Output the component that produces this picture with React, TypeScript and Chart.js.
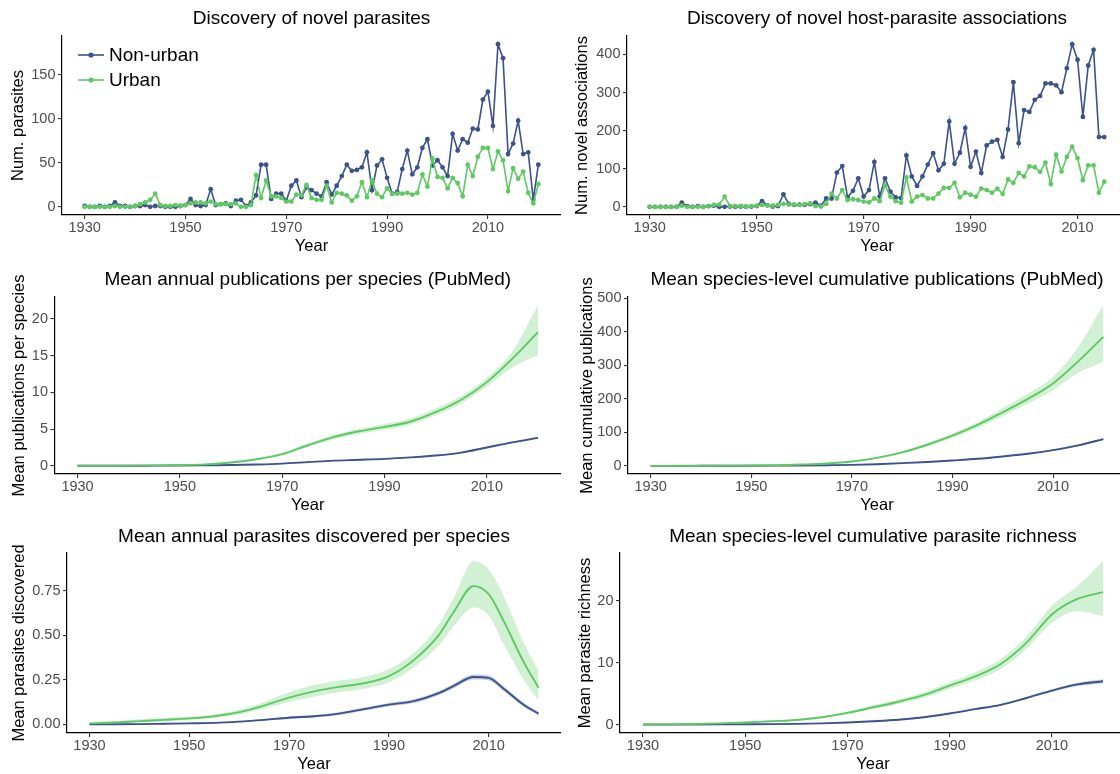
import React, { useEffect, useRef } from "react";
import { Chart, registerables } from "chart.js";

Chart.register(...registerables);

const FONT = "'Liberation Sans', Arial, Helvetica, sans-serif";
const BLUE = "#3b528b";
const GREEN = "#5ec962";
const BLUE_FILL = "rgba(59,82,139,0.28)";
const GREEN_FILL = "rgba(94,201,98,0.28)";

const X_TICKS = [1930, 1950, 1970, 1990, 2010];

// ---------- Panel 1: novel parasites per year ----------
const YEARS_P1 = [
  1930, 1931, 1932, 1933, 1934, 1935, 1936, 1937, 1938, 1939,
  1940, 1941, 1942, 1943, 1944, 1945, 1946, 1947, 1948, 1949,
  1950, 1951, 1952, 1953, 1954, 1955, 1956, 1957, 1958, 1959,
  1960, 1961, 1962, 1963, 1964, 1965, 1966, 1967, 1968, 1969,
  1970, 1971, 1972, 1973, 1974, 1975, 1976, 1977, 1978, 1979,
  1980, 1981, 1982, 1983, 1984, 1985, 1986, 1987, 1988, 1989,
  1990, 1991, 1992, 1993, 1994, 1995, 1996, 1997, 1998, 1999,
  2000, 2001, 2002, 2003, 2004, 2005, 2006, 2007, 2008, 2009,
  2010, 2011, 2012, 2013, 2014, 2015, 2016, 2017, 2018, 2019, 2020,
];
const P1_NONURBAN = [
  1, 0, 0, 1, 0, 1, 5, 1, 1, 0,
  1, 1, 2, 0, 1, 1, 0, 0, 0, 1,
  2, 9, 2, 1, 2, 20, 2, 3, 4, 1,
  7, 8, 1, 5, 13, 48, 48, 9, 15, 15,
  7, 24, 30, 11, 22, 19, 15, 12, 28, 14,
  24, 35, 48, 41, 42, 45, 62, 19, 47, 54,
  33, 15, 17, 43, 64, 37, 45, 67, 77, 47,
  53, 45, 35, 83, 64, 77, 73, 89, 88, 122,
  131, 92, 185, 169, 60, 72, 98, 60, 62, 8, 48,
];
const P1_URBAN = [
  0, 0, 0, 0, 0, 0, 1, 0, 0, 0,
  1, 3, 5, 8, 15, 2, 1, 1, 2, 1,
  2, 4, 5, 5, 4, 6, 3, 3, 3, 3,
  4, 0, 0, 2, 36, 10, 30, 12, 12, 10,
  6, 6, 14, 13, 25, 10, 8, 8, 24, 5,
  16, 15, 13, 7, 12, 28, 11, 30, 15, 11,
  21, 15, 15, 15, 16, 14, 16, 37, 23, 55,
  34, 33, 21, 33, 27, 12, 48, 35, 57, 67,
  67, 43, 63, 53, 18, 44, 32, 40, 16, 4, 26,
];

// ---------- Panel 2: novel host-parasite associations ----------
const YEARS_P2 = [
  1930, 1931, 1932, 1933, 1934, 1935, 1936, 1937, 1938, 1939,
  1940, 1941, 1942, 1943, 1944, 1945, 1946, 1947, 1948, 1949,
  1950, 1951, 1952, 1953, 1954, 1955, 1956, 1957, 1958, 1959,
  1960, 1961, 1962, 1963, 1964, 1965, 1966, 1967, 1968, 1969,
  1970, 1971, 1972, 1973, 1974, 1975, 1976, 1977, 1978, 1979,
  1980, 1981, 1982, 1983, 1984, 1985, 1986, 1987, 1988, 1989,
  1990, 1991, 1992, 1993, 1994, 1995, 1996, 1997, 1998, 1999,
  2000, 2001, 2002, 2003, 2004, 2005, 2006, 2007, 2008, 2009,
  2010, 2011, 2012, 2013, 2014, 2015,
];
const P2_NONURBAN = [
  0, 0, 0, 0, 0, 0, 11, 2, 0, 2,
  0, 2, 3, 0, 0, 1, 0, 1, 0, 1,
  2, 15, 4, 1, 2, 33, 8, 5, 6, 5,
  7, 11, 3, 22, 22, 90, 107, 25, 42, 75,
  27, 44, 118, 27, 75, 40, 25, 23, 135, 80,
  55, 80, 111, 141, 96, 113, 224, 113, 142, 207,
  105, 145, 89, 161, 171, 176, 131, 203, 327, 167,
  254, 249, 281, 291, 324, 324, 319, 301, 364, 427,
  386, 236, 371, 412, 183, 183,
];
const P2_URBAN = [
  0, 0, 0, 0, 0, 0, 3, 0, 0, 0,
  0, 2, 5, 6, 27, 2, 2, 2, 1, 2,
  3, 5, 4, 3, 5, 8, 6, 6, 5, 7,
  9, 2, 1, 8, 35, 22, 44, 18, 20, 18,
  14, 12, 22, 15, 57, 27, 15, 11, 77, 14,
  27, 31, 22, 22, 35, 50, 50, 63, 25, 37,
  32, 27, 48, 44, 37, 48, 34, 72, 63, 89,
  80, 106, 104, 92, 116, 60, 137, 93, 131, 158,
  128, 70, 109, 109, 37, 66,
];

// ---------- Smoothed panels (fit + 95% CI) ----------
const YEARS_5 = [
  1930, 1935, 1940, 1945, 1950, 1955, 1960, 1965, 1970, 1975,
  1980, 1985, 1990, 1995, 2000, 2005, 2010, 2015, 2020,
];

// Panel 3: mean annual publications per species
const P3_URBAN_MEAN = [0, 0.01, 0.02, 0.05, 0.1, 0.2, 0.45, 0.9, 1.6, 2.8, 3.9, 4.7, 5.3, 6.0, 7.3, 9.0, 11.4, 14.6, 18.2];
const P3_URBAN_UP = [0.02, 0.03, 0.05, 0.09, 0.15, 0.26, 0.55, 1.02, 1.8, 3.05, 4.2, 5.05, 5.7, 6.45, 7.8, 9.5, 12.0, 15.6, 21.9];
const P3_URBAN_LO = [-0.02, -0.01, 0, 0.02, 0.06, 0.15, 0.37, 0.78, 1.42, 2.55, 3.6, 4.35, 4.9, 5.6, 6.85, 8.5, 10.8, 13.4, 15.1];
const P3_NONURBAN_MEAN = [0, 0, 0, 0.02, 0.04, 0.07, 0.1, 0.18, 0.3, 0.5, 0.7, 0.82, 0.95, 1.15, 1.4, 1.8, 2.5, 3.2, 3.8];
const P3_NONURBAN_UP = [0.01, 0.01, 0.01, 0.04, 0.06, 0.1, 0.13, 0.22, 0.34, 0.55, 0.75, 0.87, 1.01, 1.21, 1.47, 1.88, 2.6, 3.32, 3.95];
const P3_NONURBAN_LO = [-0.01, -0.01, -0.01, 0, 0.02, 0.04, 0.07, 0.14, 0.26, 0.45, 0.65, 0.77, 0.89, 1.09, 1.33, 1.72, 2.4, 3.08, 3.65];

// Panel 4: mean species-level cumulative publications
const P4_URBAN_MEAN = [0, 0.1, 0.3, 0.6, 1, 2, 4, 7, 13, 24, 40, 63, 90, 122, 160, 200, 246, 312, 385];
const P4_URBAN_UP = [0.3, 0.4, 0.6, 1, 1.5, 2.6, 4.8, 8.2, 14.5, 26.5, 43.5, 68, 97, 131, 172, 216, 266, 355, 480];
const P4_URBAN_LO = [-0.3, -0.2, 0, 0.2, 0.5, 1.4, 3.2, 5.8, 11.5, 21.5, 36.5, 58, 83, 113, 148, 186, 226, 278, 310];
const P4_NONURBAN_MEAN = [0, 0, 0.1, 0.2, 0.4, 0.7, 1.2, 2, 3, 5, 8, 11.5, 16, 21, 28, 36, 47, 61, 80];
const P4_NONURBAN_UP = [0.2, 0.2, 0.3, 0.4, 0.6, 0.9, 1.5, 2.4, 3.5, 5.6, 8.7, 12.3, 17, 22.2, 29.4, 37.6, 49, 63.5, 83.5];
const P4_NONURBAN_LO = [-0.2, -0.2, -0.1, 0, 0.2, 0.5, 0.9, 1.6, 2.5, 4.4, 7.3, 10.7, 15, 19.8, 26.6, 34.4, 45, 58.5, 76.5];

// Panel 5: mean annual parasites discovered per species
const YEARS_P5 = [
  1930, 1935, 1940, 1945, 1950, 1955, 1960, 1965, 1970, 1975,
  1980, 1985, 1990, 1995, 2000, 2003, 2007, 2010, 2013, 2017, 2020,
];
const P5_URBAN_MEAN = [0.005, 0.01, 0.018, 0.025, 0.033, 0.045, 0.068, 0.105, 0.15, 0.185, 0.21, 0.23, 0.27, 0.36, 0.5, 0.63, 0.775, 0.73, 0.58, 0.35, 0.205];
const P5_URBAN_UP = [0.012, 0.018, 0.028, 0.035, 0.043, 0.055, 0.082, 0.125, 0.18, 0.22, 0.245, 0.265, 0.31, 0.4, 0.56, 0.71, 0.915, 0.87, 0.72, 0.46, 0.3];
const P5_URBAN_LO = [-0.002, 0.003, 0.01, 0.016, 0.024, 0.036, 0.055, 0.088, 0.125, 0.155, 0.18, 0.2, 0.235, 0.32, 0.44, 0.55, 0.655, 0.61, 0.45, 0.25, 0.135];
const P5_NONURBAN_MEAN = [0, 0, 0.001, 0.003, 0.005, 0.008, 0.015, 0.025, 0.037, 0.045, 0.06, 0.085, 0.11, 0.13, 0.175, 0.215, 0.265, 0.26, 0.2, 0.11, 0.06];
const P5_NONURBAN_UP = [0.003, 0.003, 0.004, 0.006, 0.008, 0.011, 0.019, 0.03, 0.043, 0.052, 0.068, 0.094, 0.12, 0.141, 0.187, 0.228, 0.279, 0.274, 0.213, 0.121, 0.07];
const P5_NONURBAN_LO = [-0.003, -0.003, -0.002, 0, 0.002, 0.005, 0.011, 0.02, 0.031, 0.038, 0.052, 0.076, 0.1, 0.119, 0.163, 0.202, 0.251, 0.246, 0.187, 0.099, 0.05];

// Panel 6: mean species-level cumulative parasite richness
const P6_URBAN_MEAN = [0.05, 0.07, 0.1, 0.2, 0.35, 0.55, 0.75, 1.2, 1.9, 2.8, 3.7, 4.8, 6.3, 7.8, 9.8, 13.2, 17.8, 20.3, 21.4];
const P6_URBAN_UP = [0.1, 0.12, 0.17, 0.28, 0.45, 0.66, 0.88, 1.38, 2.12, 3.08, 4.05, 5.25, 6.85, 8.45, 10.6, 14.2, 19.2, 22.4, 26.4];
const P6_URBAN_LO = [0, 0.02, 0.04, 0.12, 0.25, 0.44, 0.62, 1.02, 1.68, 2.52, 3.35, 4.35, 5.75, 7.15, 9.0, 12.2, 16.4, 18.3, 17.5];
const P6_NONURBAN_MEAN = [0, 0, 0.02, 0.04, 0.06, 0.08, 0.12, 0.2, 0.35, 0.55, 0.8, 1.2, 1.8, 2.5, 3.2, 4.3, 5.5, 6.5, 7.0];
const P6_NONURBAN_UP = [0.03, 0.03, 0.05, 0.07, 0.1, 0.12, 0.17, 0.26, 0.42, 0.63, 0.9, 1.3, 1.92, 2.63, 3.36, 4.48, 5.72, 6.78, 7.35];
const P6_NONURBAN_LO = [-0.03, -0.03, -0.01, 0.01, 0.02, 0.04, 0.07, 0.14, 0.28, 0.47, 0.7, 1.1, 1.68, 2.37, 3.04, 4.12, 5.28, 6.22, 6.65];

// ---------- layout ----------
type Box = { x: number; y: number; w: number; h: number };
type Area = { L: number; T: number; R: number; B: number };
type Band = { mean: number[]; up: number[]; lo: number[] };

interface PanelCfg {
  id: string;
  title: string;
  yTitle: string;
  kind: "points" | "smooth";
  years: number[];
  nonUrban?: number[];
  urban?: number[];
  nonUrbanBand?: Band;
  urbanBand?: Band;
  yTicks: number[];
  yDigits: number;
  cell: Box;
  area: Area;
  titleY: number;
  yTitleX: number;
  legend?: boolean;
}

const LEFT_CELL = (y: number, h: number): Box => ({ x: 0, y, w: 566, h });
const RIGHT_CELL = (y: number, h: number): Box => ({ x: 560, y, w: 572, h });

const PANELS: PanelCfg[] = [
  {
    id: "p1", title: "Discovery of novel parasites", yTitle: "Num. parasites", kind: "points",
    years: YEARS_P1, nonUrban: P1_NONURBAN, urban: P1_URBAN, yTicks: [0, 50, 100, 150], yDigits: 0,
    cell: LEFT_CELL(0, 259), area: { L: 62, T: 36, R: 561, B: 215 }, titleY: 18.5, yTitleX: 18, legend: true,
  },
  {
    id: "p2", title: "Discovery of novel host-parasite associations", yTitle: "Num. novel associations", kind: "points",
    years: YEARS_P2, nonUrban: P2_NONURBAN, urban: P2_URBAN, yTicks: [0, 100, 200, 300, 400], yDigits: 0,
    cell: RIGHT_CELL(0, 259), area: { L: 627, T: 36, R: 1127, B: 215 }, titleY: 18.5, yTitleX: 582,
  },
  {
    id: "p3", title: "Mean annual publications per species (PubMed)", yTitle: "Mean publications per species", kind: "smooth",
    years: YEARS_5,
    urbanBand: { mean: P3_URBAN_MEAN, up: P3_URBAN_UP, lo: P3_URBAN_LO },
    nonUrbanBand: { mean: P3_NONURBAN_MEAN, up: P3_NONURBAN_UP, lo: P3_NONURBAN_LO },
    yTicks: [0, 5, 10, 15, 20], yDigits: 0,
    cell: LEFT_CELL(259, 258), area: { L: 54.5, T: 297, R: 561, B: 474 }, titleY: 279.5, yTitleX: 19.5,
  },
  {
    id: "p4", title: "Mean species-level cumulative publications (PubMed)", yTitle: "Mean cumulative publications", kind: "smooth",
    years: YEARS_5,
    urbanBand: { mean: P4_URBAN_MEAN, up: P4_URBAN_UP, lo: P4_URBAN_LO },
    nonUrbanBand: { mean: P4_NONURBAN_MEAN, up: P4_NONURBAN_UP, lo: P4_NONURBAN_LO },
    yTicks: [0, 100, 200, 300, 400, 500], yDigits: 0,
    cell: RIGHT_CELL(259, 258), area: { L: 628, T: 297, R: 1126, B: 474 }, titleY: 279.5, yTitleX: 587,
  },
  {
    id: "p5", title: "Mean annual parasites discovered per species", yTitle: "Mean parasites discovered", kind: "smooth",
    years: YEARS_P5,
    urbanBand: { mean: P5_URBAN_MEAN, up: P5_URBAN_UP, lo: P5_URBAN_LO },
    nonUrbanBand: { mean: P5_NONURBAN_MEAN, up: P5_NONURBAN_UP, lo: P5_NONURBAN_LO },
    yTicks: [0, 0.25, 0.5, 0.75], yDigits: 2,
    cell: LEFT_CELL(517, 257), area: { L: 67, T: 553, R: 561, B: 733 }, titleY: 536.5, yTitleX: 19.5,
  },
  {
    id: "p6", title: "Mean species-level cumulative parasite richness", yTitle: "Mean parasite richness", kind: "smooth",
    years: YEARS_5,
    urbanBand: { mean: P6_URBAN_MEAN, up: P6_URBAN_UP, lo: P6_URBAN_LO },
    nonUrbanBand: { mean: P6_NONURBAN_MEAN, up: P6_NONURBAN_UP, lo: P6_NONURBAN_LO },
    yTicks: [0, 10, 20], yDigits: 0,
    cell: RIGHT_CELL(517, 257), area: { L: 620, T: 553, R: 1126, B: 733 }, titleY: 536.5, yTitleX: 585,
  },
];

const TICK_SIZE = 14.5;
const AXIS_TITLE_SIZE = 16.5;
const TITLE_SIZE = 19;
const LEGEND_SIZE = 19;

function extent(arrs: number[][]): [number, number] {
  let lo = Infinity;
  let hi = -Infinity;
  for (const a of arrs) for (const v of a) { if (v < lo) lo = v; if (v > hi) hi = v; }
  const r = hi - lo;
  return [lo - 0.05 * r, hi + 0.05 * r];
}

const annotPlugin = {
  id: "annot",
  afterDraw(chart: any, _args: any, opts: any) {
    const ctx = chart.ctx as CanvasRenderingContext2D;
    const { left, right } = chart.chartArea;
    ctx.save();
    ctx.fillStyle = "#000";
    ctx.font = `${TITLE_SIZE}px ${FONT}`;
    ctx.textAlign = "center";
    ctx.textBaseline = "middle";
    ctx.fillText(opts.title, (left + right) / 2, opts.titleY);
    if (opts.legend) {
      const items = [
        { label: "Non-urban", color: BLUE, y: 55 - opts.cellY },
        { label: "Urban", color: GREEN, y: 80 - opts.cellY },
      ];
      for (const it of items) {
        ctx.strokeStyle = it.color;
        ctx.lineWidth = 1.6;
        ctx.beginPath();
        ctx.moveTo(78 - opts.cellX, it.y);
        ctx.lineTo(104 - opts.cellX, it.y);
        ctx.stroke();
        ctx.fillStyle = it.color;
        ctx.beginPath();
        ctx.arc(91 - opts.cellX, it.y, 2.6, 0, Math.PI * 2);
        ctx.fill();
        ctx.fillStyle = "#000";
        ctx.font = `${LEGEND_SIZE}px ${FONT}`;
        ctx.textAlign = "left";
        ctx.textBaseline = "middle";
        ctx.fillText(it.label, 109 - opts.cellX, it.y + 0.5);
      }
    }
    ctx.restore();
  },
};

function buildConfig(p: PanelCfg): any {
  const { cell, area } = p;
  const padTop = area.T - cell.y;
  const padRight = cell.x + cell.w - area.R;
  const yAxisW = area.L - cell.x;
  const xAxisH = cell.y + cell.h - area.B;
  const xTitleCenter = area.B + 31;
  const xTitlePadBottom = cell.y + cell.h - xTitleCenter - AXIS_TITLE_SIZE / 2;
  const yTitlePadTop = p.yTitleX - cell.x - AXIS_TITLE_SIZE / 2;

  const x0 = p.years[0];
  const x1 = p.years[p.years.length - 1];
  const xr = x1 - x0;
  const xMin = x0 - 0.05 * xr;
  const xMax = x1 + 0.05 * xr;

  const toXY = (vals: number[]) => p.years.map((x, i) => ({ x, y: vals[i] }));
  let datasets: any[] = [];
  let yExt: [number, number];

  if (p.kind === "points") {
    yExt = extent([p.nonUrban!, p.urban!]);
    const common = { borderWidth: 1.6, pointRadius: 2.4, pointHoverRadius: 2.4, pointBorderWidth: 0, tension: 0 };
    datasets = [
      { label: "Urban", data: toXY(p.urban!), borderColor: GREEN, backgroundColor: GREEN, pointBackgroundColor: GREEN, order: 1, ...common },
      { label: "Non-urban", data: toXY(p.nonUrban!), borderColor: BLUE, backgroundColor: BLUE, pointBackgroundColor: BLUE, order: 2, ...common },
    ];
  } else {
    const u = p.urbanBand!;
    const n = p.nonUrbanBand!;
    yExt = extent([u.up, u.lo, n.up, n.lo, u.mean, n.mean]);
    const band = { borderWidth: 0, borderColor: "rgba(0,0,0,0)", pointRadius: 0, pointHoverRadius: 0, cubicInterpolationMode: "monotone" };
    const line = { borderWidth: 1.9, pointRadius: 0, pointHoverRadius: 0, fill: false, cubicInterpolationMode: "monotone" };
    datasets = [
      { label: "Urban upper", data: toXY(u.up), fill: "+1", backgroundColor: GREEN_FILL, order: 5, ...band },
      { label: "Urban lower", data: toXY(u.lo), fill: false, backgroundColor: GREEN_FILL, order: 6, ...band },
      { label: "Non-urban upper", data: toXY(n.up), fill: "+1", backgroundColor: BLUE_FILL, order: 3, ...band },
      { label: "Non-urban lower", data: toXY(n.lo), fill: false, backgroundColor: BLUE_FILL, order: 4, ...band },
      { label: "Urban", data: toXY(u.mean), borderColor: GREEN, backgroundColor: GREEN, order: 1, ...line },
      { label: "Non-urban", data: toXY(n.mean), borderColor: BLUE, backgroundColor: BLUE, order: 2, ...line },
    ];
  }

  const tickFont = { family: FONT, size: TICK_SIZE, lineHeight: 1 };
  const titleFont = { family: FONT, size: AXIS_TITLE_SIZE, lineHeight: 1 };
  const grid = { display: true, drawOnChartArea: false, drawTicks: true, tickLength: 4, color: "#333333", lineWidth: 1.1 };
  const border = { display: true, color: "#000000", width: 1.2 };

  return {
    type: "line",
    data: { datasets },
    plugins: [annotPlugin],
    options: {
      animation: false,
      responsive: false,
      maintainAspectRatio: false,
      devicePixelRatio: 1,
      events: [],
      layout: { padding: { top: padTop, right: padRight, left: 0, bottom: 0 } },
      plugins: {
        legend: { display: false },
        tooltip: { enabled: false },
        title: { display: false },
        annot: { title: p.title, titleY: p.titleY - cell.y, legend: !!p.legend, cellX: cell.x, cellY: cell.y },
      },
      scales: {
        x: {
          type: "linear",
          min: xMin,
          max: xMax,
          afterBuildTicks: (s: any) => { s.ticks = X_TICKS.map((v) => ({ value: v })); },
          afterFit: (s: any) => { s.height = xAxisH; },
          grid,
          border,
          ticks: { color: "#4d4d4d", font: tickFont, padding: 2, maxRotation: 0, autoSkip: false, callback: (v: any) => String(v) },
          title: { display: true, text: "Year", color: "#000", font: titleFont, padding: { top: 0, bottom: xTitlePadBottom } },
        },
        y: {
          type: "linear",
          min: yExt[0],
          max: yExt[1],
          afterBuildTicks: (s: any) => { s.ticks = p.yTicks.map((v) => ({ value: v })); },
          afterFit: (s: any) => { s.width = yAxisW; },
          grid,
          border,
          ticks: { color: "#4d4d4d", font: tickFont, padding: 2.5, autoSkip: false, callback: (v: any) => Number(v).toFixed(p.yDigits) },
          title: { display: true, text: p.yTitle, color: "#000", font: titleFont, padding: { top: yTitlePadTop, bottom: 0 } },
        },
      },
    },
  };
}

function PanelChart({ p }: { p: PanelCfg }) {
  const ref = useRef<HTMLCanvasElement | null>(null);
  useEffect(() => {
    if (!ref.current) return;
    const chart = new Chart(ref.current, buildConfig(p));
    return () => chart.destroy();
  }, [p]);
  return (
    <canvas
      ref={ref}
      width={p.cell.w}
      height={p.cell.h}
      style={{ position: "absolute", left: p.cell.x, top: p.cell.y, width: p.cell.w, height: p.cell.h }}
    />
  );
}

export default function App() {
  return (
    <div
      style={{
        position: "fixed",
        left: 0,
        top: 0,
        width: 1120,
        height: 774,
        overflow: "hidden",
        background: "#ffffff",
      }}
    >
      {PANELS.map((p) => (
        <PanelChart key={p.id} p={p} />
      ))}
    </div>
  );
}
